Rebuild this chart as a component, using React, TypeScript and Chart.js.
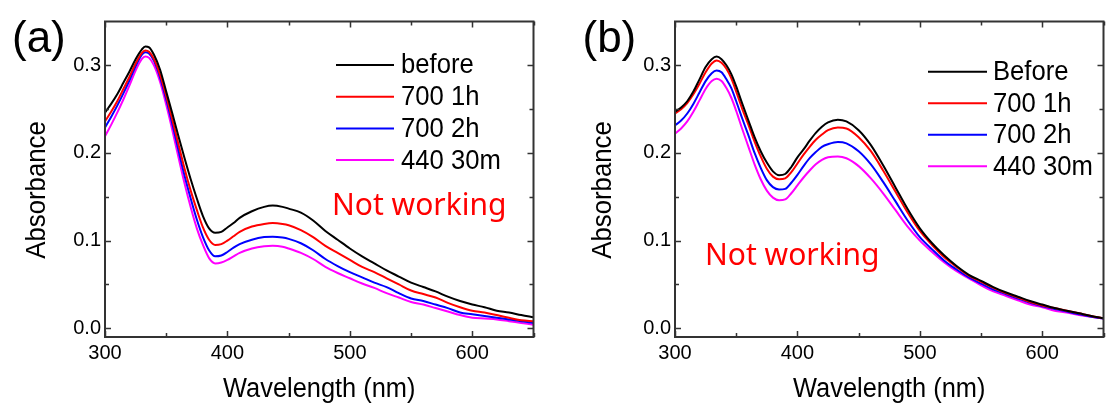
import React, { useEffect, useRef } from "react";
import { Chart, registerables } from "chart.js";

Chart.register(...registerables);

// ---------- data ----------
const WL_A = [300, 305, 310, 315, 320, 325, 330, 333, 336, 340, 345, 350, 355, 360, 365, 370, 375, 380, 385, 390, 395, 400, 405, 410, 420, 430, 437, 445, 450, 460, 470, 480, 490, 500, 510, 520, 530, 540, 550, 560, 570, 580, 590, 600, 610, 620, 630, 640, 650];
const A_BEFORE = [0.246, 0.256, 0.267, 0.28, 0.293, 0.307, 0.318, 0.3215, 0.3205, 0.312, 0.295, 0.27, 0.245, 0.219, 0.194, 0.17, 0.148, 0.128, 0.114, 0.109, 0.11, 0.115, 0.12, 0.126, 0.1335, 0.1385, 0.14, 0.1385, 0.1365, 0.132, 0.123, 0.111, 0.101, 0.091, 0.082, 0.074, 0.066, 0.059, 0.052, 0.047, 0.042, 0.036, 0.031, 0.027, 0.024, 0.02, 0.018, 0.015, 0.0125];
const A_700_1H = [0.236, 0.247, 0.259, 0.273, 0.287, 0.302, 0.314, 0.317, 0.3155, 0.307, 0.289, 0.265, 0.238, 0.21, 0.182, 0.157, 0.135, 0.115, 0.101, 0.095, 0.096, 0.1, 0.105, 0.11, 0.116, 0.119, 0.12, 0.119, 0.1175, 0.112, 0.104, 0.094, 0.086, 0.078, 0.07, 0.064, 0.057, 0.05, 0.043, 0.039, 0.035, 0.029, 0.024, 0.02, 0.018, 0.015, 0.012, 0.009, 0.008];
const A_700_2H = [0.229, 0.241, 0.254, 0.268, 0.283, 0.299, 0.312, 0.315, 0.3135, 0.305, 0.286, 0.261, 0.233, 0.203, 0.174, 0.148, 0.124, 0.104, 0.089, 0.082, 0.083, 0.087, 0.092, 0.096, 0.101, 0.104, 0.1045, 0.1035, 0.102, 0.097, 0.089, 0.079, 0.071, 0.064, 0.058, 0.052, 0.047, 0.04, 0.034, 0.031, 0.027, 0.023, 0.018, 0.016, 0.014, 0.012, 0.01, 0.008, 0.006];
const A_440_30M = [0.219, 0.232, 0.246, 0.261, 0.277, 0.294, 0.307, 0.31, 0.3085, 0.3, 0.281, 0.255, 0.226, 0.195, 0.165, 0.138, 0.114, 0.095, 0.08, 0.074, 0.075, 0.078, 0.082, 0.086, 0.091, 0.0935, 0.094, 0.093, 0.091, 0.086, 0.079, 0.07, 0.063, 0.057, 0.051, 0.046, 0.04, 0.035, 0.03, 0.027, 0.023, 0.019, 0.015, 0.012, 0.011, 0.01, 0.008, 0.006, 0.004];

const WL_B = [300, 305, 310, 315, 320, 325, 330, 334, 338, 342, 346, 350, 355, 360, 365, 370, 375, 380, 385, 390, 395, 400, 405, 410, 415, 420, 425, 433, 440, 450, 460, 470, 480, 490, 500, 510, 520, 530, 540, 550, 560, 570, 580, 590, 600, 610, 620, 630, 640, 650];
const B_BEFORE = [0.247, 0.252, 0.259, 0.27, 0.284, 0.298, 0.307, 0.31, 0.307, 0.3, 0.29, 0.276, 0.256, 0.237, 0.218, 0.202, 0.189, 0.179, 0.1746, 0.176, 0.184, 0.195, 0.204, 0.214, 0.223, 0.23, 0.235, 0.238, 0.236, 0.226, 0.209, 0.186, 0.161, 0.136, 0.114, 0.097, 0.083, 0.071, 0.061, 0.054, 0.047, 0.041, 0.036, 0.031, 0.027, 0.023, 0.02, 0.017, 0.014, 0.0115];
const B_700_1H = [0.245, 0.25, 0.257, 0.267, 0.279, 0.292, 0.302, 0.3056, 0.303, 0.296, 0.285, 0.27, 0.25, 0.232, 0.213, 0.196, 0.182, 0.173, 0.17, 0.171, 0.178, 0.188, 0.198, 0.207, 0.215, 0.221, 0.226, 0.229, 0.228, 0.218, 0.202, 0.18, 0.156, 0.132, 0.111, 0.095, 0.081, 0.07, 0.06, 0.053, 0.046, 0.04, 0.035, 0.03, 0.026, 0.023, 0.02, 0.017, 0.014, 0.0115];
const B_700_2H = [0.2315, 0.237, 0.245, 0.256, 0.269, 0.282, 0.291, 0.294, 0.292, 0.284, 0.274, 0.259, 0.239, 0.22, 0.2, 0.183, 0.169, 0.161, 0.1583, 0.159, 0.166, 0.175, 0.185, 0.194, 0.201, 0.207, 0.21, 0.2125, 0.211, 0.202, 0.187, 0.167, 0.145, 0.123, 0.104, 0.09, 0.077, 0.067, 0.058, 0.051, 0.044, 0.039, 0.034, 0.029, 0.025, 0.022, 0.019, 0.016, 0.013, 0.011];
const B_440_30M = [0.222, 0.228, 0.236, 0.247, 0.26, 0.273, 0.282, 0.2847, 0.282, 0.274, 0.263, 0.248, 0.227, 0.207, 0.187, 0.17, 0.157, 0.149, 0.146, 0.147, 0.154, 0.163, 0.172, 0.18, 0.187, 0.192, 0.195, 0.196, 0.194, 0.185, 0.171, 0.154, 0.135, 0.116, 0.1, 0.087, 0.075, 0.065, 0.057, 0.049, 0.042, 0.037, 0.032, 0.027, 0.024, 0.02, 0.018, 0.015, 0.013, 0.011];

const LABELS_A = ["before", "700 1h", "700 2h", "440 30m"];
const LABELS_B = ["Before", "700 1h", "700 2h", "440 30m"];
const COLORS = ["#000000", "#ff0000", "#0000ff", "#ff00ff"];

const X_TICKS = [300, 350, 400, 450, 500, 550, 600, 650];
const X_MAJOR = [300, 400, 500, 600];
const Y_TICKS = [0, 0.05, 0.1, 0.15, 0.2, 0.25, 0.3];
const Y_MAJOR = [0, 0.1, 0.2, 0.3];
const X_RANGE = [300, 650];
const Y_RANGE = [-0.01, 0.35];

const NOTE_TEXT = "Not working";
const X_TITLE = "Wavelength (nm)";
const Y_TITLE = "Absorbance";

const SANS = "'Liberation Sans', Arial, sans-serif";
const isMajor = (v: number, majors: number[]) => majors.some((m) => Math.abs(m - v) < 1e-9);

const decorPlugin = {
  id: "decor",
  afterDraw(chart: any, _args: any, opts: any) {
    const ctx = chart.ctx;
    const ca = chart.chartArea;
    const xs = chart.scales.x;
    const ys = chart.scales.y;
    ctx.save();
    // tick marks (inward, all four sides)
    ctx.strokeStyle = "#333333";
    ctx.lineWidth = 1.5;
    ctx.beginPath();
    X_TICKS.forEach((v) => {
      const px = Math.round(xs.getPixelForValue(v)) + 0.5;
      const len = isMajor(v, X_MAJOR) ? 6 : 4;
      ctx.moveTo(px, ca.bottom);
      ctx.lineTo(px, ca.bottom - len);
      ctx.moveTo(px, ca.top);
      ctx.lineTo(px, ca.top + len);
    });
    Y_TICKS.forEach((v) => {
      const py = Math.round(ys.getPixelForValue(v)) + 0.5;
      const len = isMajor(v, Y_MAJOR) ? 6 : 4;
      ctx.moveTo(ca.left, py);
      ctx.lineTo(ca.left + len, py);
      ctx.moveTo(ca.right, py);
      ctx.lineTo(ca.right - len, py);
    });
    ctx.stroke();
    // frame
    ctx.lineWidth = 2;
    ctx.strokeRect(ca.left, ca.top, ca.right - ca.left, ca.bottom - ca.top);

    // axis titles (slightly condensed face, as in the source)
    ctx.fillStyle = "#000000";
    ctx.textAlign = "center";
    ctx.textBaseline = "alphabetic";
    ctx.font = `27px ${SANS}`;
    ctx.save();
    ctx.translate((ca.left + ca.right) / 2, opts.xTitleY);
    ctx.scale(0.94, 1);
    ctx.fillText(X_TITLE, 0, 0);
    ctx.restore();
    ctx.save();
    ctx.translate(opts.yTitle.x, opts.yTitle.y);
    ctx.rotate(-Math.PI / 2);
    ctx.scale(0.92, 1);
    ctx.font = `28px ${SANS}`;
    ctx.fillText(Y_TITLE, 0, 0);
    ctx.restore();

    // legend
    const lg = opts.legend;
    ctx.textBaseline = "middle";
    ctx.textAlign = "left";
    ctx.font = `27px ${SANS}`;
    chart.data.datasets.forEach((ds: any, i: number) => {
      const y = lg.y + i * lg.gap;
      ctx.strokeStyle = ds.borderColor;
      ctx.lineWidth = 2;
      ctx.beginPath();
      ctx.moveTo(lg.x1, y);
      ctx.lineTo(lg.x2, y);
      ctx.stroke();
      ctx.fillStyle = "#000000";
      ctx.save();
      ctx.translate(lg.tx, y + 1);
      ctx.scale(0.95, 1);
      ctx.fillText(ds.label, 0, 0);
      ctx.restore();
    });

    // annotation
    ctx.fillStyle = "#ff0000";
    ctx.textBaseline = "alphabetic";
    ctx.font = "30px 'Noto Sans', 'Open Sans', sans-serif";
    ctx.fillText(NOTE_TEXT, opts.note.x, opts.note.y);

    // panel letter
    ctx.fillStyle = "#000000";
    ctx.font = `44px ${SANS}`;
    ctx.fillText(opts.letter.text, opts.letter.x, opts.letter.y);
    ctx.restore();
  },
};

type PanelProps = {
  wl: number[];
  series: number[][];
  labels: string[];
  left: number;
  width: number;
  plotRightPad: number;
  yTitle: { x: number; y: number };
  legend: { x1: number; x2: number; tx: number; y: number; gap: number };
  note: { x: number; y: number };
  letter: { text: string; x: number; y: number };
};

function Panel(p: PanelProps) {
  const ref = useRef<HTMLCanvasElement | null>(null);
  useEffect(() => {
    if (!ref.current) return;
    const chart = new Chart(ref.current, {
      type: "line",
      data: {
        datasets: p.series.map((vals, i) => ({
          label: p.labels[i],
          data: p.wl.map((w, j) => ({ x: w, y: vals[j] })),
          borderColor: COLORS[i],
          backgroundColor: COLORS[i],
          borderWidth: 2,
          pointRadius: 0,
          fill: false,
          cubicInterpolationMode: "monotone" as const,
        })),
      },
      options: {
        responsive: false,
        animation: false,
        devicePixelRatio: 1,
        layout: { padding: { left: 0, top: 21.5, right: p.plotRightPad, bottom: 0 } },
        plugins: {
          legend: { display: false },
          tooltip: { enabled: false },
          decor: { legend: p.legend, note: p.note, letter: p.letter, yTitle: p.yTitle, xTitleY: 396.5 },
        } as any,
        scales: {
          x: {
            type: "linear",
            min: X_RANGE[0],
            max: X_RANGE[1],
            grid: { display: false, drawTicks: false },
            border: { display: false },
            afterBuildTicks: (s: any) => {
              s.ticks = X_MAJOR.map((v) => ({ value: v }));
            },
            afterFit: (s: any) => {
              s.height = 405 - 337;
            },
            ticks: {
              padding: 4,
              color: "#000000",
              font: { family: SANS, size: 20 },
              callback: (v: any) => String(v),
              maxRotation: 0,
            },
            title: { display: false },
          },
          y: {
            type: "linear",
            min: Y_RANGE[0],
            max: Y_RANGE[1],
            grid: { display: false, drawTicks: false },
            border: { display: false },
            afterBuildTicks: (s: any) => {
              s.ticks = Y_MAJOR.map((v) => ({ value: v }));
            },
            afterFit: (s: any) => {
              s.width = 105;
            },
            ticks: {
              padding: 4,
              color: "#000000",
              font: { family: SANS, size: 20 },
              callback: (v: any) => Number(v).toFixed(1),
            },
            title: { display: false },
          },
        },
      } as any,
      plugins: [decorPlugin],
    });
    return () => chart.destroy();
  }, []);
  return (
    <canvas
      ref={ref}
      width={p.width}
      height={405}
      style={{ position: "absolute", left: p.left, top: 0, width: p.width, height: 405 }}
    />
  );
}

export default function App() {
  return (
    <div style={{ position: "absolute", left: 0, top: 0, width: 1106, height: 405, background: "#ffffff" }}>
      <Panel
        wl={WL_A}
        series={[A_BEFORE, A_700_1H, A_700_2H, A_440_30M]}
        labels={LABELS_A}
        left={0}
        width={553}
        plotRightPad={553 - 533.5}
        yTitle={{ x: 45, y: 190 }}
        legend={{ x1: 336, x2: 394, tx: 401, y: 65, gap: 31.7 }}
        note={{ x: 332, y: 215 }}
        letter={{ text: "(a)", x: 12, y: 52 }}
      />
      <Panel
        wl={WL_B}
        series={[B_BEFORE, B_700_1H, B_700_2H, B_440_30M]}
        labels={LABELS_B}
        left={570}
        width={536}
        plotRightPad={536 - 533.5}
        yTitle={{ x: 41, y: 190 }}
        legend={{ x1: 358, x2: 417, tx: 423, y: 71.7, gap: 31.5 }}
        note={{ x: 135, y: 265 }}
        letter={{ text: "(b)", x: 12.5, y: 52 }}
      />
    </div>
  );
}
